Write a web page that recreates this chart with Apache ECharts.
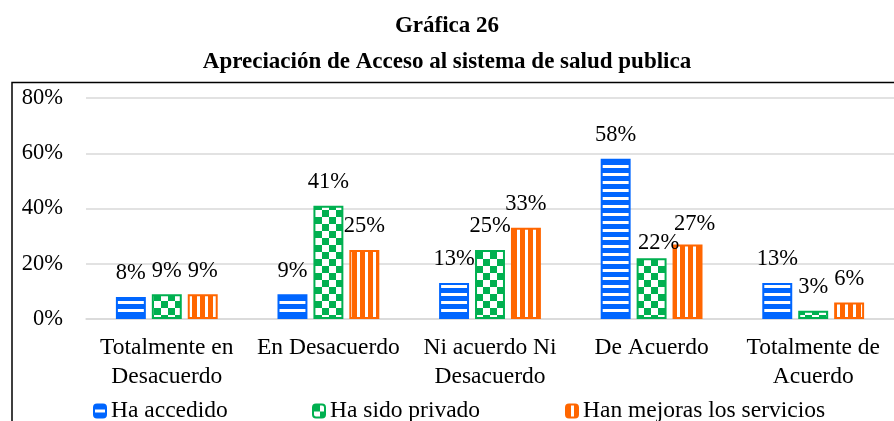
<!DOCTYPE html>
<html>
<head>
<meta charset="utf-8">
<script src="https://cdn.jsdelivr.net/npm/echarts@6/dist/echarts.min.js"></script>
<style>
  html, body { margin: 0; padding: 0; background: #fff; }
  #chart { width: 894px; height: 421px; }
</style>
</head>
<body>
<div id="chart"></div>
<script>
// datos de la grafica
const categorias = ['Totalmente en\nDesacuerdo', 'En Desacuerdo', 'Ni acuerdo Ni\nDesacuerdo', 'De Acuerdo', 'Totalmente de\nAcuerdo']
const haAccedido = [8, 9, 13, 58, 13]
const haSidoPrivado = [9, 41, 25, 22, 3]
const hanMejoras = [9, 25, 33, 27, 6]
const nombres = ['Ha accedido', 'Ha sido privado', 'Han mejoras los servicios']
const ticksY = [0, 20, 40, 60, 80]

const FONT = 'Liberation Serif'
const AZUL = '#0066ff', VERDE = '#00b050', NARANJA = '#ff6600'

// etiquetas que excel movio un poco (serie-indice: [dx, dy])
const ajustes = { '1-3': [7, 8], '2-3': [7, 3] }

// patrones de relleno como en excel
function patron(tipo, color) {
  let c = document.createElement('canvas')
  let ctx
  if (tipo == 'h') {
    c.width = 8; c.height = 8
    ctx = c.getContext('2d')
    ctx.fillStyle = color; ctx.fillRect(0, 0, 8, 8)
    ctx.fillStyle = '#fff'; ctx.fillRect(0, 5, 8, 3)
  } else if (tipo == 'v') {
    c.width = 8; c.height = 8
    ctx = c.getContext('2d')
    ctx.fillStyle = color; ctx.fillRect(0, 0, 8, 8)
    ctx.fillStyle = '#fff'; ctx.fillRect(5, 0, 3, 8)
  } else {
    c.width = 14; c.height = 14
    ctx = c.getContext('2d')
    ctx.fillStyle = '#fff'; ctx.fillRect(0, 0, 14, 14)
    ctx.fillStyle = color
    ctx.fillRect(0, 0, 7, 7); ctx.fillRect(7, 7, 7, 7)
  }
  return { image: c, repeat: 'repeat' }
}

function serie(n, datos, tipo, color) {
  let data = datos.map(function (v, i) {
    let aj = ajustes[n + '-' + i]
    if (aj) return { value: v, label: { offset: aj } }
    return v
  })
  return {
    name: nombres[n],
    type: 'bar',
    data: data,
    barGap: '20%',
    barCategoryGap: '37%',
    itemStyle: { color: patron(tipo, color), borderColor: color, borderWidth: 2 },
    label: {
      show: true, position: 'top', distance: 12,
      formatter: '{c}%', fontFamily: FONT, fontSize: 22.5, color: '#000'
    }
  }
}

let chart = echarts.init(document.getElementById('chart'))

let legendBase = {
  top: 394, itemWidth: 12, itemHeight: 13,
  textStyle: { fontFamily: FONT, fontSize: 23.5, color: '#000' }
}

let option = {
  animation: false,
  title: [
    { text: 'Gráfica 26', left: 'center', top: 10,
      textStyle: { fontFamily: FONT, fontSize: 23, fontWeight: 'bold', color: '#000' } },
    { text: 'Apreciación de Acceso al sistema de salud publica', left: 'center', top: 46,
      textStyle: { fontFamily: FONT, fontSize: 23, fontWeight: 'bold', color: '#000' } }
  ],
  graphic: [
    { type: 'rect', left: 9.5, top: 80, shape: { width: 900, height: 400 },
      style: { fill: 'none', stroke: '#000', lineWidth: 1.5 }, z: -1 }
  ],
  legend: [
    Object.assign({}, legendBase, { left: 88, data: [nombres[0]] }),
    Object.assign({}, legendBase, { left: 307, data: [nombres[1]] }),
    Object.assign({}, legendBase, { left: 560, data: [nombres[2]] })
  ],
  grid: { left: 86, top: 98, width: 810, height: 221 },
  xAxis: {
    type: 'category',
    data: categorias,
    axisTick: { show: false },
    axisLine: { lineStyle: { color: '#d9d9d9', width: 1.5 } },
    axisLabel: { fontFamily: FONT, fontSize: 23.5, color: '#000', lineHeight: 29, margin: 14, interval: 0 }
  },
  yAxis: {
    type: 'value',
    min: ticksY[0], max: ticksY[ticksY.length - 1], interval: 20,
    axisLine: { show: false },
    axisTick: { show: false },
    splitLine: { lineStyle: { color: '#d9d9d9', width: 1.5 } },
    axisLabel: { formatter: '{value}%', fontFamily: FONT, fontSize: 22.5, color: '#000', margin: 23 }
  },
  series: [
    serie(0, haAccedido, 'h', AZUL),
    serie(1, haSidoPrivado, 'c', VERDE),
    serie(2, hanMejoras, 'v', NARANJA)
  ]
}

chart.setOption(option)
</script>
</body>
</html>
